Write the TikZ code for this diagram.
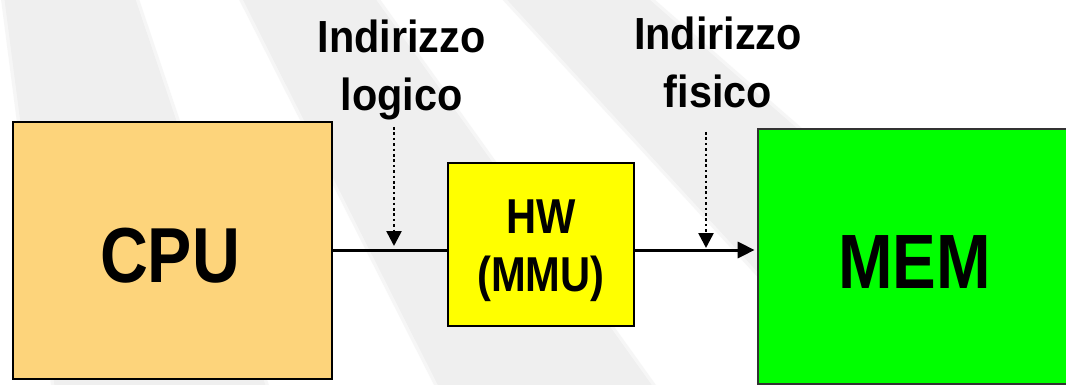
\documentclass[tikz,border=0pt]{standalone}
\usepackage{fontspec}
\usetikzlibrary{arrows.meta}
\newfontfamily\labfont[FakeStretch=0.92]{Liberation Sans}
\newfontfamily\boxfont[FakeStretch=0.85]{Liberation Sans}
\definecolor{cpuorange}{HTML}{FDD47B}
\definecolor{hwyellow}{HTML}{FFFF00}
\definecolor{memgreen}{HTML}{00FF00}
\definecolor{stripegray}{HTML}{EFEFEF}
\begin{document}
\begin{tikzpicture}[x=1pt,y=-1pt,
  box/.style={draw=black, line width=2.2pt, inner sep=0pt, outer sep=0pt},
  boxtext/.style={inner sep=0pt, align=center, text=black},
  labeltext/.style={font=\labfont\bfseries\fontsize{45}{58}\selectfont, align=center, inner sep=0pt, anchor=north, text=black},
  conn/.style={draw=black, line width=3pt},
  dotline/.style={draw=black, line width=2.6pt, dash pattern=on 2.6pt off 2.8pt},
  bigtip/.style={-{Triangle[length=17pt,width=16pt]}},
  smalltip/.style={-{Triangle[length=15pt,width=15pt]}},
  stripe/.style={fill=stripegray, draw=stripegray, draw opacity=0.5, line width=7pt, line join=miter}
]
\useasboundingbox (0,0) rectangle (1066,385);
% background stripes
\begin{scope}
  \clip (0,0) rectangle (1066,385);
  \fill[white] (0,0) rectangle (1066,385);
  \filldraw[stripe] (2,-20) -- (129,-20) -- (272,405) -- (57,405) -- cycle;
  \filldraw[stripe] (233,-20) -- (362,-20) -- (666,405) -- (448,405) -- cycle;
  \filldraw[stripe] (489,-20) -- (627,-20) -- (1114,405) -- (880,405) -- cycle;
\end{scope}
% boxes
\node[box, fill=cpuorange, minimum width=319pt, minimum height=257pt] (cpu) at (172.2,250.5) {};
\node[box, fill=hwyellow, minimum width=186.3pt, minimum height=163pt] (hw) at (540.8,244.5) {};
\begin{scope}
  \clip (0,0) rectangle (1066,385);
  \node[box, draw=black!80, line width=1.8pt, fill=memgreen, minimum width=313.3pt, minimum height=255pt] (mem) at (914.3,256.5) {};
\end{scope}
% box texts
\node[boxtext, anchor=base, font=\boxfont\bfseries\fontsize{78}{90}\selectfont] (cputext) at (170,282) {CPU};
\node[boxtext, anchor=north, font=\boxfont\bfseries\fontsize{49}{58}\selectfont] (hwtext) at (541,200) {HW\\(MMU)};
\node[boxtext, anchor=base, font=\boxfont\bfseries\fontsize{77}{90}\selectfont] (memtext) at (914.5,288) {MEM};
% labels
\node[labeltext] (loglab) at (401.5,19.8) {Indirizzo\\logico};
\node[labeltext] (fislab) at (718,16.8) {Indirizzo\\fisico};
% coordinates
\coordinate (j1) at (394,250);
\coordinate (j2) at (706,250);
\coordinate (logstart) at (394,127);
\coordinate (fisstart) at (706,132);
% connectors
\draw[conn] (cpu.east |- j1) -- (hw.west |- j1);
\draw[conn, bigtip] (hw.east |- j2) -- ([xshift=-3pt]mem.west |- j2);
\draw[dotline, smalltip] (logstart) -- ([yshift=4pt]j1);
\draw[dotline, smalltip] (fisstart) -- ([yshift=2pt]j2);
\end{tikzpicture}
\end{document}
